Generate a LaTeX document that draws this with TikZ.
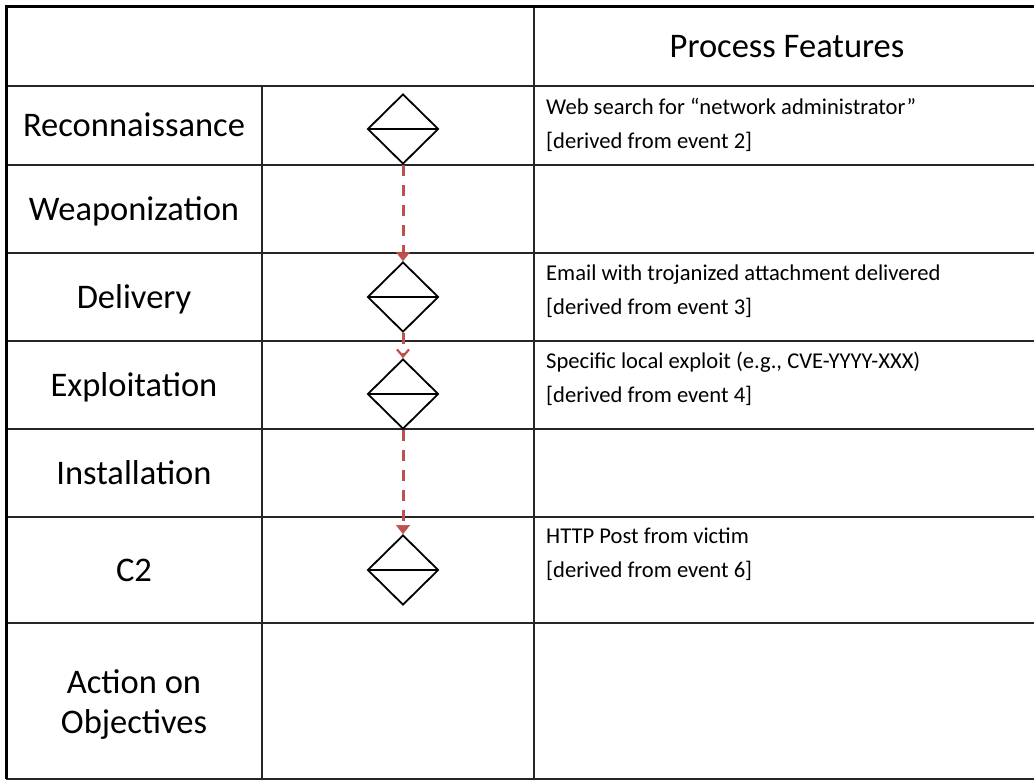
\documentclass[tikz,border=0pt]{standalone}
\usepackage{fontspec}
\setmainfont{Carlito}
\usetikzlibrary{shapes.geometric,arrows.meta}
\definecolor{flowred}{HTML}{C0504D}
\begin{document}
\begin{tikzpicture}[x=1pt,y=-1pt,
  grid/.style={line width=1.5pt, black!85},
  outer/.style={line width=3pt, black},
  phase/.style={font=\fontsize{34.5}{40}\selectfont, align=center, inner sep=0pt, anchor=base},
  feat/.style={font=\fontsize{22.6}{34}\selectfont, align=left, inner sep=0pt, anchor=base west},
  event/.style={diamond, draw, line width=1.8pt, minimum width=71pt, minimum height=70pt, inner sep=0pt,
    path picture={\draw[line width=1.8pt] (path picture bounding box.west) -- (path picture bounding box.east);}},
  flow/.style={draw=flowred, line width=3pt, dash pattern=on 11pt off 9pt},
  filledtip/.style={-{Triangle[length=9pt,width=14pt,fill=flowred,line width=0.5pt]}},
  opentip/.style={-{Straight Barb[length=7pt,width=12pt,line width=2.2pt]}},
]
\useasboundingbox (0,0) rectangle (1034,780);
\clip (0,0) rectangle (1034,780);
\fill[white] (0,0) rectangle (1034,780);

% table grid
\foreach \r in {86,165,253,341,429,517,623,779}
  \draw[grid] (6,\r) -- (1040,\r);
\draw[grid] (262,86) -- (262,779);
\draw[grid] (534,6) -- (534,779);
\draw[outer] (6.3,779) -- (6.3,6.3) -- (1040,6.3);

% header (anchor = baseline of the last line)
\node[phase] (header) at (787,57) {Process Features};

% phases
\node[phase] (recon) at (134,136.5) {Reconnaissance};
\node[phase] (weap) at (134,220) {Weaponization};
\node[phase] (deliv) at (134,308) {Delivery};
\node[phase] (expl) at (134,396) {Exploitation};
\node[phase] (inst) at (134,484) {Installation};
\node[phase] (c2) at (134,581) {C2};
\node[phase] (act) at (134,733) {Action on\\Objectives};

% features
\node[feat] (f1) at (546,148) {Web search for “network administrator”\\{}[derived from event 2]};
\node[feat] (f2) at (546,314) {Email with trojanized attachment delivered\\{}[derived from event 3]};
\node[feat] (f3) at (546,402) {Specific local exploit (e.g., CVE-YYYY-XXX)\\{}[derived from event 4]};
\node[feat] (f4) at (546,577) {HTTP Post from victim\\{}[derived from event 6]};

% events
\node[event] (d1) at (403,129) {};
\node[event] (d2) at (403,297) {};
\node[event] (d3) at (403,394) {};
\node[event] (d4) at (403,570) {};

% flow arrows
\draw[flow, filledtip] (d1.south) -- (d2.north);
\draw[flow, opentip] (d2.south) -- (d3.north);
\draw[flow, filledtip] (d3.south) -- (d4.north);
\end{tikzpicture}
\end{document}
